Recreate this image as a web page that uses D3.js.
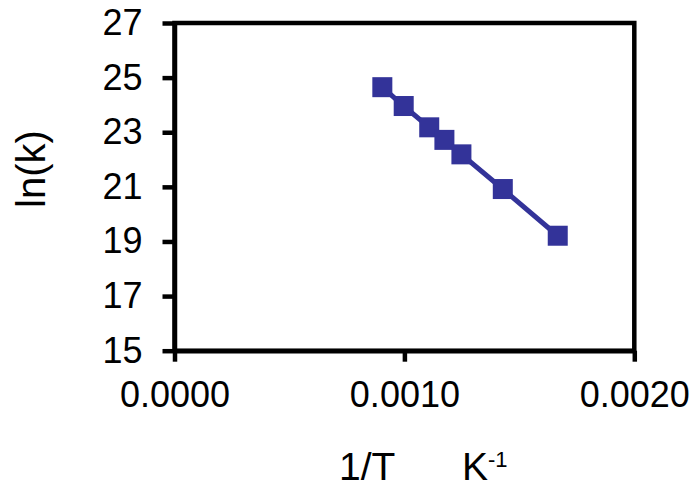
<!DOCTYPE html>
<html>
<head>
<meta charset="utf-8">
<script src="https://cdn.jsdelivr.net/npm/d3@7"></script>
<style>
  body { margin: 0; background: #fff; }
  svg { display: block; font-family: "Liberation Sans", Arial, sans-serif; }
</style>
</head>
<body>
<script>
// 1/T (K^-1) against ln(k)
const invT = [0.000904, 0.000997, 0.001108, 0.001174, 0.001248, 0.001428, 0.001667];
const lnK = [24.65, 23.96, 23.18, 22.72, 22.19, 20.92, 19.21];
const xTicks = [0, 0.001, 0.002];
const yTicks = [15, 17, 19, 21, 23, 25, 27];

const width = 693,
  height = 484,
  plot = { left: 174.5, right: 634.3, top: 23, bottom: 350.7 };

const svg = d3
  .select("body")
  .append("svg")
  .attr("width", width)
  .attr("height", height);

const x = d3.scaleLinear().domain([0, 0.002]).range([plot.left, plot.right]);
const y = d3.scaleLinear().domain([15, 27]).range([plot.bottom, plot.top]);

// frame (top and right edges)
svg
  .append("rect")
  .attr("x", plot.left)
  .attr("y", plot.top)
  .attr("width", plot.right - plot.left)
  .attr("height", plot.bottom - plot.top)
  .attr("fill", "none")
  .attr("stroke", "#000")
  .attr("stroke-width", 4.5);

const yAxis = svg
  .append("g")
  .attr("transform", `translate(${plot.left},0)`)
  .call(
    d3.axisLeft(y).tickValues(yTicks).tickSize(12).tickPadding(20).tickSizeOuter(0)
  );

const xAxis = svg
  .append("g")
  .attr("transform", `translate(0,${plot.bottom})`)
  .call(
    d3
      .axisBottom(x)
      .tickValues(xTicks)
      .tickFormat(d3.format(".4f"))
      .tickSize(11)
      .tickPadding(20)
      .tickSizeOuter(0)
  );

[yAxis, xAxis].forEach(a => {
  a.select(".domain").attr("stroke-width", 4.5);
  a.selectAll(".tick line").attr("stroke-width", 4.5);
  a.selectAll(".tick text")
    .attr("fill", "#000")
    .style("font-size", "36px")
    .style("font-family", "'Liberation Sans', Arial, sans-serif");
});

// series line
const line = d3
  .line()
  .x((d, i) => x(invT[i]))
  .y(d => y(d));

svg
  .append("path")
  .datum(lnK)
  .attr("d", line)
  .attr("fill", "none")
  .attr("stroke", "#333399")
  .attr("stroke-width", 5);

const markerSize = 20;
svg
  .selectAll(".marker")
  .data(lnK)
  .enter()
  .append("rect")
  .attr("class", "marker")
  .attr("x", (d, i) => x(invT[i]) - markerSize / 2)
  .attr("y", d => y(d) - markerSize / 2)
  .attr("width", markerSize)
  .attr("height", markerSize)
  .attr("fill", "#333399");

// axis titles
svg
  .append("text")
  .attr("transform", "translate(45,169) rotate(-90)")
  .attr("text-anchor", "middle")
  .style("font-size", "40px")
  .text("ln(k)");

const xTitle = svg
  .append("text")
  .attr("x", 339)
  .attr("y", 480)
  .style("font-size", "39px");

xTitle.append("tspan").text("1/T");
xTitle.append("tspan").attr("x", 462).text("K");
xTitle
  .append("tspan")
  .attr("dy", -13)
  .style("font-size", "22px")
  .text("-1");
</script>
</body>
</html>
